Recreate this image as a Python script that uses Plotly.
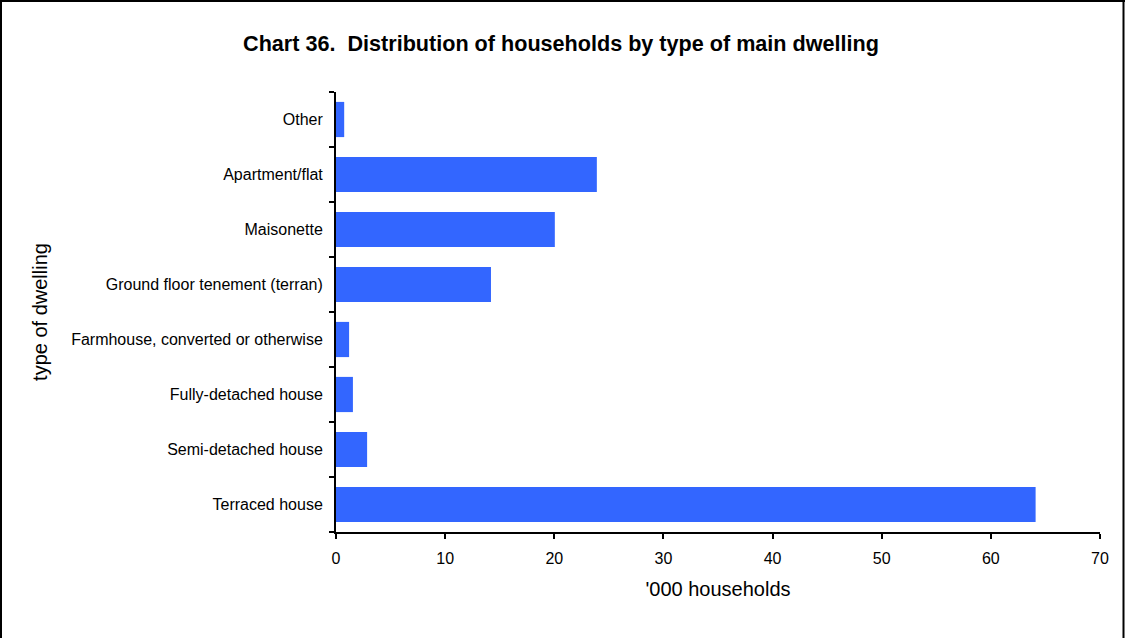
import plotly.graph_objects as go

categories = ["Terraced house", "Semi-detached house", "Fully-detached house",
              "Farmhouse, converted or otherwise", "Ground floor tenement (terran)",
              "Maisonette", "Apartment/flat", "Other"]
values = [64.1, 2.85, 1.55, 1.2, 14.2, 20.05, 23.9, 0.75]
x_ticks = [0, 10, 20, 30, 40, 50, 60, 70]

W, H = 1128, 638
L, R, T, B = 336, 28, 92, 106
pw, ph = W - L - R, H - T - B


def px_x(p):
    return (p - L) / pw


def px_y(p):
    return 1 - (p - T) / ph


fig = go.Figure(go.Bar(
    x=values, y=categories, orientation="h",
    marker=dict(color="#3366FF", line=dict(width=0)),
))

border = dict(color="black", width=2)
fig.update_layout(
    width=W, height=H,
    margin=dict(l=L, r=R, t=T, b=B),
    paper_bgcolor="white", plot_bgcolor="white",
    font=dict(family="Liberation Sans, Arial, sans-serif", color="black", size=16),
    bargap=0.36,
    showlegend=False,
    title=dict(text="<b>Chart 36.&nbsp; Distribution of households by type of main dwelling</b>",
               x=561 / W, xanchor="center", y=1 - 43 / H, yanchor="middle",
               xref="container", yref="container",
               font=dict(size=21.6, color="black")),
    xaxis=dict(range=[0, 70], tickvals=x_ticks, showgrid=False, zeroline=False,
               showline=True, linecolor="black", linewidth=2,
               ticks="outside", ticklen=5, tickwidth=2, tickcolor="black",
               tickfont=dict(size=16), ticklabelstandoff=6,
               title=dict(text="'000 households", font=dict(size=20), standoff=16)),
    yaxis=dict(categoryorder="array", categoryarray=categories, showgrid=False,
               showline=True, linecolor="black", linewidth=2,
               ticks="outside", ticklen=5, tickwidth=2, tickcolor="black",
               tickson="boundaries", tickfont=dict(size=16), ticklabelstandoff=8,
               title=dict(text="type of dwelling", font=dict(size=20), standoff=18)),
    shapes=[
        dict(type="line", xref="paper", yref="paper",
             x0=px_x(0), x1=px_x(1125), y0=px_y(1), y1=px_y(1), line=border, layer="above"),
        dict(type="line", xref="paper", yref="paper",
             x0=px_x(1), x1=px_x(1), y0=px_y(0), y1=px_y(640), line=border, layer="above"),
        dict(type="line", xref="paper", yref="paper",
             x0=px_x(1123.5), x1=px_x(1123.5), y0=px_y(0), y1=px_y(640), line=border, layer="above"),
    ],
)

fig.write_html("out.html", config={"displayModeBar": False},
               post_script="document.body.style.margin='0';")
